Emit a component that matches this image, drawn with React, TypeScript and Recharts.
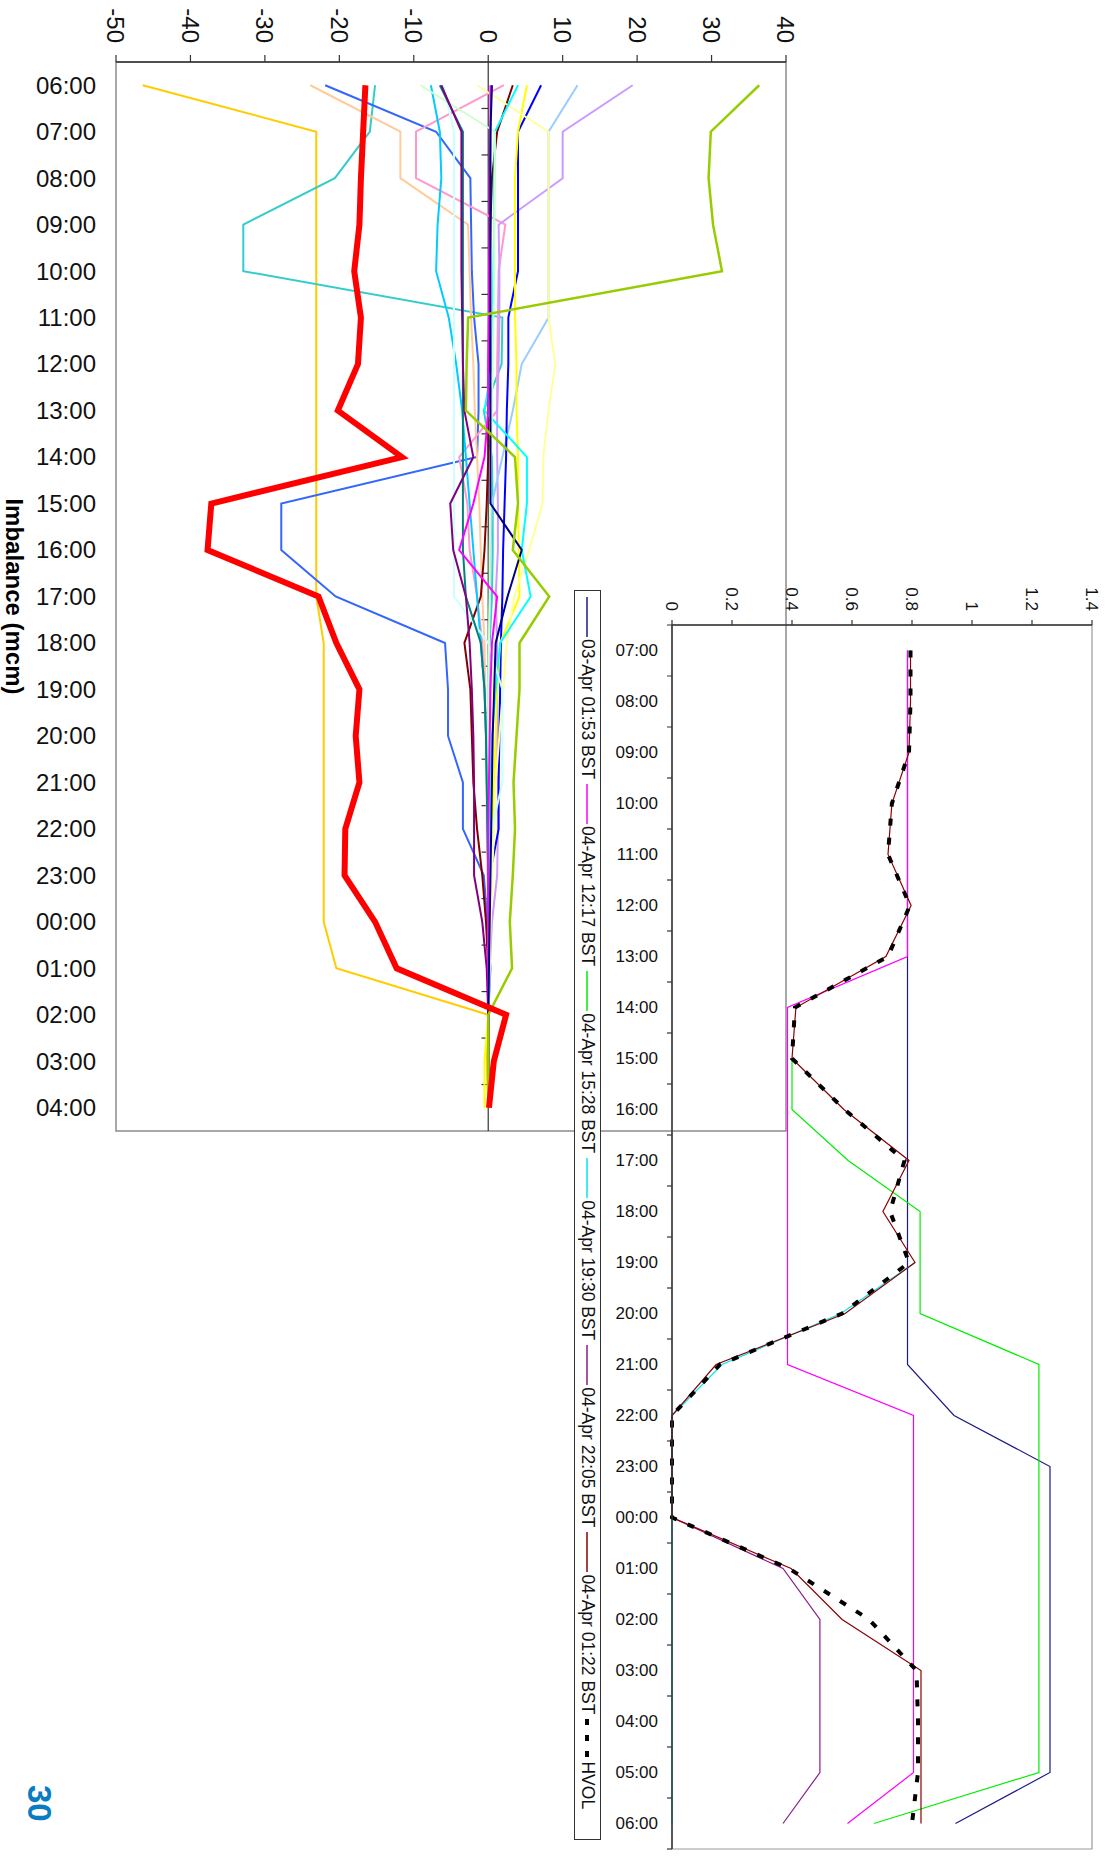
import React from "react";
import { LineChart, Line, XAxis, YAxis, ReferenceLine, ReferenceArea } from "recharts";

const FONT = "'Liberation Sans', Arial, Helvetica, sans-serif";

// ---- big chart: imbalance (mcm), 06:00 .. 04:00
const bigHours = [
  "06:00", "07:00", "08:00", "09:00", "10:00", "11:00", "12:00", "13:00", "14:00", "15:00", "16:00", "17:00",
  "18:00", "19:00", "20:00", "21:00", "22:00", "23:00", "00:00", "01:00", "02:00", "03:00", "04:00",
];
const imbTicks = [-50, -40, -30, -20, -10, 0, 10, 20, 30, 40];

const imbGold = [-46.4, -23.1, -23.1, -23.1, -23.1, -23.1, -23.1, -23.1, -23.1, -23.1, -23.1, -23.1, -22.1, -22.1, -22.1, -22.1, -22.1, -22.1, -22.1, -20.4, 0, -0.2, 0];
const imbTurquoise = [-15.2, -15.9, -20.6, -32.9, -32.9, 1.9, 1.8, -0.6, 0.5, 0.6, 0.6, 0.5, 0.2, 0.1, 0.1, 0, 0, 0, 0, 0, 0, 0, 0];
const imbRoyal = [-21.9, -7.0, -2.4, -2.3, -2.2, -1.9, -1.3, -1.3, -1.5, -27.8, -27.8, -20.5, -5.8, -5.4, -5.4, -3.4, -3.4, -0.6, -0.1, 0.3, 0, 0, 0];
const imbPeach = [-23.9, -11.8, -11.8, -2.7, -2.5, -2.3, -2.0, -1.8, -1.5, -1.2, -1.0, -0.8, -0.5, -0.4, -0.3, -0.2, -0.2, -0.1, 0, 0, 0, 0, 0];
const imbPink = [2.1, -9.7, -9.7, 2.3, 1.4, 1.3, 1.2, 1.2, -3.9, -2.8, -2.5, -1.5, -0.8, -0.5, -0.3, -0.2, -0.1, 0, 0, 0, 0, 0, 0];
const imbLavender = [19.4, 10.0, 10.0, 1.4, 1.5, 1.5, 1.4, 1.2, 1.2, 1.3, 1.3, 1.0, 1.2, 1.2, 1.2, 1.3, 1.3, 1.2, 0.5, 0.2, 0, 0, 0];
const imbLightBlue = [12.0, 8.1, 8.1, 8.1, 8.1, 8.1, 4.5, 3.3, 1.9, 0.5, 0.3, 0.2, 0.1, 0, 0, 0, 0, 0, 0, 0, 0, 0, 0];
const imbLime = [36.4, 29.9, 29.6, 30.2, 31.4, -2.7, -2.9, -3.0, 3.6, 4.0, 3.3, 8.2, 4.2, 4.2, 3.8, 3.4, 3.6, 3.3, 2.9, 3.2, 0, 0, 0];
const imbBlue = [7.1, 4.0, 4.0, 4.0, 4.0, 2.7, 2.7, 2.5, 2.4, 2.2, 2.0, 1.9, 1.7, 1.6, 1.5, 1.4, 1.4, 0.2, 0.1, 0, 0, 0, 0];
const imbMaroon = [3.3, 1.2, 0.5, 0.3, 0.2, 0.1, 0.1, 0, 0, -0.2, -0.5, -1.0, -3.2, -2.4, -2.2, -2.0, -1.5, -0.8, -0.3, 0, 0, 0, 0];
const imbYellow = [5.2, 4.0, 3.6, 3.6, 3.6, 3.6, 3.8, 3.8, 4.0, 4.0, 4.1, 4.2, 1.6, 1.2, 1.0, 0.8, 0.6, 0.5, 0.3, 0.1, 0, -0.5, -0.5];
const imbLightYellow = [-1.5, 8.1, 8.1, 8.1, 8.1, 8.1, 9.0, 8.1, 7.4, 7.3, 5.5, 3.5, 2.5, 2.0, 1.5, 1.0, 0.8, 0.5, 0.3, 0.2, 0, 0, 0];
const imbCyan = [4.0, 0.9, 0.8, 0.8, 0.7, 0.6, 0.5, -0.5, 5.2, 5.2, 4.5, 5.7, 1.6, 1.0, 0.5, 0.3, 0.2, 0.1, 0, 0, 0, 0, 0];
const imbSky = [-7.7, -6.5, -6.3, -6.8, -7.0, -5.3, -4.3, -3.5, -3.0, -2.5, -2.0, -1.5, -1.0, -0.5, -0.3, -0.2, -0.1, 0, 0, 0, 0, 0, 0];
const imbLightCyan = [-6.0, -4.6, -4.6, -4.6, -4.6, -4.6, -4.6, -4.6, -4.6, -4.6, -4.6, -4.6, 0, 1.9, 1.9, 1.9, 0.5, 0.3, 0.1, 0, 0, 0, 0];
const imbLightGreen = [-9.1, 0.9, 0.9, 0.8, 0.8, 0.7, 0.6, 0.5, 0.4, 0.3, 0.2, 0.2, 0.1, 0, 0, 0, 0, 0, 0, 0, 0, 0, 0];
const imbTeal = [-6.5, -3.4, -3.4, -3.4, -3.4, -3.4, -3.4, -3.4, -3.4, -3.4, -3.4, -3.0, -1.0, -0.5, -0.3, -0.2, -0.1, 0, 0, 0, 0, 0, 0];
const imbPurple = [-6.3, -3.6, -3.6, -3.6, -3.6, -3.5, -3.4, -3.2, -2.0, -5.1, -4.7, -3.0, -2.5, -2.2, -2.0, -1.9, -1.9, -1.9, -0.8, -0.2, 0, 0, 0];
const imbMagenta = [0.3, 0.3, 0.2, 0.2, 0.1, 0.1, 0, 0, -0.5, -2.0, -3.9, 1.2, 0.5, 0.3, 0.2, 0.1, 0, 0, 0, 0, 0, 0, 0];
const imbNavy = [0.5, 0.3, 0.3, 0.3, 0.3, 0.3, 0.3, 0.3, 0.3, 0.3, 4.5, 2.6, 1.0, 0.8, 0.6, 0.5, 0.4, 0.3, 0.2, 0.1, 0, 0, 0];
const imbRed = [-16.5, -16.8, -17.1, -17.3, -18.0, -17.1, -17.5, -20.2, -11.6, -37.2, -37.7, -22.8, -20.4, -17.3, -17.8, -17.3, -19.2, -19.3, -15.2, -12.3, 2.4, 0.75, 0.1];

const bigSeries = [
  { key: "gold", values: imbGold, color: "#ffcc00", width: 2 },
  { key: "turquoise", values: imbTurquoise, color: "#33cccc", width: 2 },
  { key: "royal", values: imbRoyal, color: "#3366ff", width: 2 },
  { key: "peach", values: imbPeach, color: "#ffcc99", width: 2 },
  { key: "pink", values: imbPink, color: "#ff99cc", width: 2 },
  { key: "lavender", values: imbLavender, color: "#cc99ff", width: 2 },
  { key: "lightBlue", values: imbLightBlue, color: "#99ccff", width: 2 },
  { key: "blue", values: imbBlue, color: "#0000ff", width: 2 },
  { key: "maroon", values: imbMaroon, color: "#800000", width: 2 },
  { key: "yellow", values: imbYellow, color: "#ffff00", width: 2 },
  { key: "lightYellow", values: imbLightYellow, color: "#ffff99", width: 2 },
  { key: "cyan", values: imbCyan, color: "#00ffff", width: 2 },
  { key: "sky", values: imbSky, color: "#00ccff", width: 2 },
  { key: "lightCyan", values: imbLightCyan, color: "#ccffff", width: 2 },
  { key: "lightGreen", values: imbLightGreen, color: "#ccffcc", width: 2 },
  { key: "teal", values: imbTeal, color: "#008080", width: 2 },
  { key: "purple", values: imbPurple, color: "#800080", width: 2 },
  { key: "magenta", values: imbMagenta, color: "#ff00ff", width: 2 },
  { key: "navy", values: imbNavy, color: "#000080", width: 2 },
  { key: "lime", values: imbLime, color: "#99cc00", width: 2.5 },
  { key: "red", values: imbRed, color: "#ff0000", width: 6 },
];

const bigData = bigHours.map((hour, i) => {
  const row: Record<string, number | string> = { i, hour };
  bigSeries.forEach((s) => (row[s.key] = s.values[i]));
  return row;
});

// ---- small chart: 07:00 .. 06:00
const smallHours = [
  "07:00", "08:00", "09:00", "10:00", "11:00", "12:00", "13:00", "14:00", "15:00", "16:00", "17:00", "18:00",
  "19:00", "20:00", "21:00", "22:00", "23:00", "00:00", "01:00", "02:00", "03:00", "04:00", "05:00", "06:00",
];
const smallTicks = [0, 0.2, 0.4, 0.6, 0.8, 1, 1.2, 1.4];

const fc0301 = [0.785, 0.785, 0.785, 0.785, 0.785, 0.785, 0.785, 0.785, 0.785, 0.785, 0.785, 0.785, 0.785, 0.785, 0.785, 0.94, 1.26, 1.26, 1.26, 1.26, 1.26, 1.26, 1.26, 0.945];
const fc0412 = [0.785, 0.785, 0.785, 0.785, 0.785, 0.785, 0.785, 0.385, 0.385, 0.385, 0.385, 0.385, 0.385, 0.385, 0.385, 0.805, 0.805, 0.805, 0.805, 0.805, 0.805, 0.805, 0.805, 0.585];
const fc0415 = [null, null, null, null, null, null, null, null, 0.4, 0.4, 0.587, 0.827, 0.827, 0.827, 1.223, 1.223, 1.223, 1.223, 1.223, 1.223, 1.223, 1.223, 1.223, 0.673];
const fc0419 = [null, null, null, null, null, null, null, null, null, null, null, null, 0.81, 0.563, 0.167, 0, 0, 0, 0, 0, 0, 0, 0, 0];
const fc0422 = [null, null, null, null, null, null, null, null, null, null, null, null, null, null, null, 0, 0, 0, 0.37, 0.493, 0.493, 0.493, 0.493, 0.37];
const fc0401 = [0.795, 0.795, 0.79, 0.733, 0.72, 0.797, 0.713, 0.413, 0.4, 0.573, 0.79, 0.703, 0.81, 0.577, 0.147, 0, 0, 0, 0.397, 0.567, 0.83, 0.83, 0.83, 0.83];
const hvol = [0.795, 0.795, 0.79, 0.733, 0.72, 0.793, 0.72, 0.41, 0.4, 0.575, 0.775, 0.727, 0.79, 0.567, 0.16, 0, 0, 0, 0.39, 0.657, 0.815, 0.82, 0.82, 0.8];

const smallSeries = [
  { key: "a", name: "03-Apr 01:53 BST", values: fc0301, color: "#1a1a8c", width: 1.2, dash: undefined as string | undefined },
  { key: "b", name: "04-Apr 12:17 BST", values: fc0412, color: "#ff00ff", width: 1.2, dash: undefined },
  { key: "c", name: "04-Apr 15:28 BST", values: fc0415, color: "#00ee00", width: 1.2, dash: undefined },
  { key: "d", name: "04-Apr 19:30 BST", values: fc0419, color: "#00e5ee", width: 1.2, dash: undefined },
  { key: "e", name: "04-Apr 22:05 BST", values: fc0422, color: "#8b1a8b", width: 1.2, dash: undefined },
  { key: "f", name: "04-Apr 01:22 BST", values: fc0401, color: "#8b0000", width: 1.2, dash: undefined },
  { key: "g", name: "HVOL", values: hvol, color: "#000000", width: 4, dash: "7 12" },
];

const smallData = smallHours.map((hour, i) => {
  const row: Record<string, number | string | null> = { i, hour };
  smallSeries.forEach((s) => (row[s.key] = s.values[i]));
  return row;
});

// rotated category label (reads bottom-to-top), optional tick mark on half steps
function HourTick(props: any) {
  const { x, y, payload, labels, fontSize, tickSize, tickMargin } = props;
  const v = payload.value;
  if (!Number.isInteger(v)) {
    if (!tickSize) return null;
    const top = y - tickMargin - tickSize;
    return <line x1={x} x2={x} y1={top} y2={top + tickSize} stroke="#333" strokeWidth={1.2} />;
  }
  return (
    <text
      x={x}
      y={y}
      dy="0.35em"
      textAnchor="end"
      transform={`rotate(-90 ${x} ${y})`}
      fontSize={fontSize}
      fontFamily={FONT}
      fill="#111"
    >
      {labels[v]}
    </text>
  );
}

function BigChart() {
  return (
    <LineChart
      width={1160}
      height={1111}
      data={bigData}
      margin={{ top: 325, right: 29, bottom: 0, left: 0 }}
      style={{ position: "absolute", left: 0, top: 0 }}
    >
      <ReferenceArea x1={-0.5} x2={22.5} y1={-50} y2={40} fill="none" stroke="#8c8c8c" strokeWidth={1.5} />
      <XAxis
        dataKey="i"
        type="number"
        domain={[-0.5, 22.5]}
        ticks={bigHours.map((_, i) => i)}
        interval={0}
        axisLine={false}
        tickLine={false}
        tickSize={10}
        tickMargin={10}
        height={116}
        tick={<HourTick labels={bigHours} fontSize={24} />}
        label={{
          value: "Imbalance (mcm)",
          position: "insideBottom",
          offset: 6,
          style: { fontSize: 24, fontWeight: 700, fontFamily: FONT, fill: "#000" },
        }}
      />
      <YAxis
        type="number"
        domain={[-50, 40]}
        ticks={imbTicks}
        interval={0}
        width={62}
        tickSize={7}
        tickMargin={12}
        axisLine={{ stroke: "#333", strokeWidth: 1.5 }}
        tickLine={{ stroke: "#333", strokeWidth: 1.2 }}
        tick={{ fontSize: 24, fontFamily: FONT, fill: "#111" }}
      />
      <ReferenceLine y={0} stroke="#333" strokeWidth={1.2} />
      {bigHours.slice(1).map((_, k) => (
        <ReferenceLine
          key={"zt" + k}
          segment={[
            { x: k + 0.5, y: 0 },
            { x: k + 0.5, y: -0.9 },
          ]}
          stroke="#333"
          strokeWidth={1.2}
        />
      ))}
      {bigSeries.map((s) => (
        <Line
          key={s.key}
          type="linear"
          dataKey={s.key}
          stroke={s.color}
          strokeWidth={s.width}
          dot={false}
          activeDot={false}
          isAnimationActive={false}
        />
      ))}
    </LineChart>
  );
}

function SmallChart() {
  const ticks: number[] = [];
  for (let k = -1; k <= 47; k++) ticks.push(k / 2);
  return (
    <LineChart
      width={1298}
      height={510}
      data={smallData}
      margin={{ top: 19, right: 9, bottom: 0, left: 0 }}
      style={{ position: "absolute", left: 560, top: 0 }}
    >
      <ReferenceArea x1={-0.5} x2={23.5} y1={0} y2={1.4} fill="none" stroke="#9a9a9a" strokeWidth={1.2} />
      <XAxis
        dataKey="i"
        type="number"
        domain={[-0.5, 23.5]}
        ticks={ticks}
        interval={0}
        axisLine={{ stroke: "#333", strokeWidth: 1.5 }}
        tickLine={false}
        tickSize={5}
        tickMargin={9}
        height={71}
        tick={<HourTick labels={smallHours} fontSize={17} tickSize={5} tickMargin={9} />}
      />
      <YAxis
        type="number"
        domain={[0, 1.4]}
        ticks={smallTicks}
        interval={0}
        width={65}
        tickSize={5}
        tickMargin={9}
        axisLine={{ stroke: "#333", strokeWidth: 1.5 }}
        tickLine={{ stroke: "#333", strokeWidth: 1.2 }}
        tick={{ fontSize: 17, fontFamily: FONT, fill: "#111" }}
      />
      {smallSeries.map((s) => (
        <Line
          key={s.key}
          type="linear"
          dataKey={s.key}
          name={s.name}
          stroke={s.color}
          strokeWidth={s.width}
          strokeDasharray={s.dash}
          dot={false}
          activeDot={false}
          isAnimationActive={false}
        />
      ))}
    </LineChart>
  );
}

function SmallLegend() {
  return (
    <div
      style={{
        position: "absolute",
        left: 590,
        top: 510,
        width: 1250,
        height: 27,
        border: "1.5px solid #333",
        background: "#fff",
        display: "flex",
        alignItems: "center",
        paddingLeft: 6,
        boxSizing: "border-box",
        fontFamily: FONT,
        fontSize: 17.5,
        color: "#111",
        whiteSpace: "nowrap",
        overflow: "hidden",
      }}
    >
      {smallSeries.map((s) => (
        <div key={s.key} style={{ display: "flex", alignItems: "center", marginRight: 5 }}>
          <svg width={40} height={10} style={{ marginRight: 2 }}>
            <line
              x1={0}
              x2={40}
              y1={5}
              y2={5}
              stroke={s.color}
              strokeWidth={s.dash ? 4 : 1.5}
              strokeDasharray={s.dash ? "6 10" : undefined}
            />
          </svg>
          <span>{s.name}</span>
        </div>
      ))}
    </div>
  );
}

export default function App() {
  return (
    <div style={{ position: "absolute", left: 0, top: 0, width: 1111, height: 1858, overflow: "hidden", background: "#fff" }}>
      <div
        style={{
          position: "absolute",
          left: 0,
          top: 0,
          width: 1858,
          height: 1111,
          transformOrigin: "0 0",
          transform: "translate(1111px, 0) rotate(90deg)",
          fontFamily: FONT,
        }}
      >
        <BigChart />
        <SmallChart />
        <SmallLegend />
        <div
          style={{
            position: "absolute",
            left: 1785,
            top: 1055,
            fontSize: 33,
            lineHeight: "33px",
            fontWeight: 700,
            color: "#0a7cc1",
            fontFamily: FONT,
          }}
        >
          30
        </div>
      </div>
    </div>
  );
}
